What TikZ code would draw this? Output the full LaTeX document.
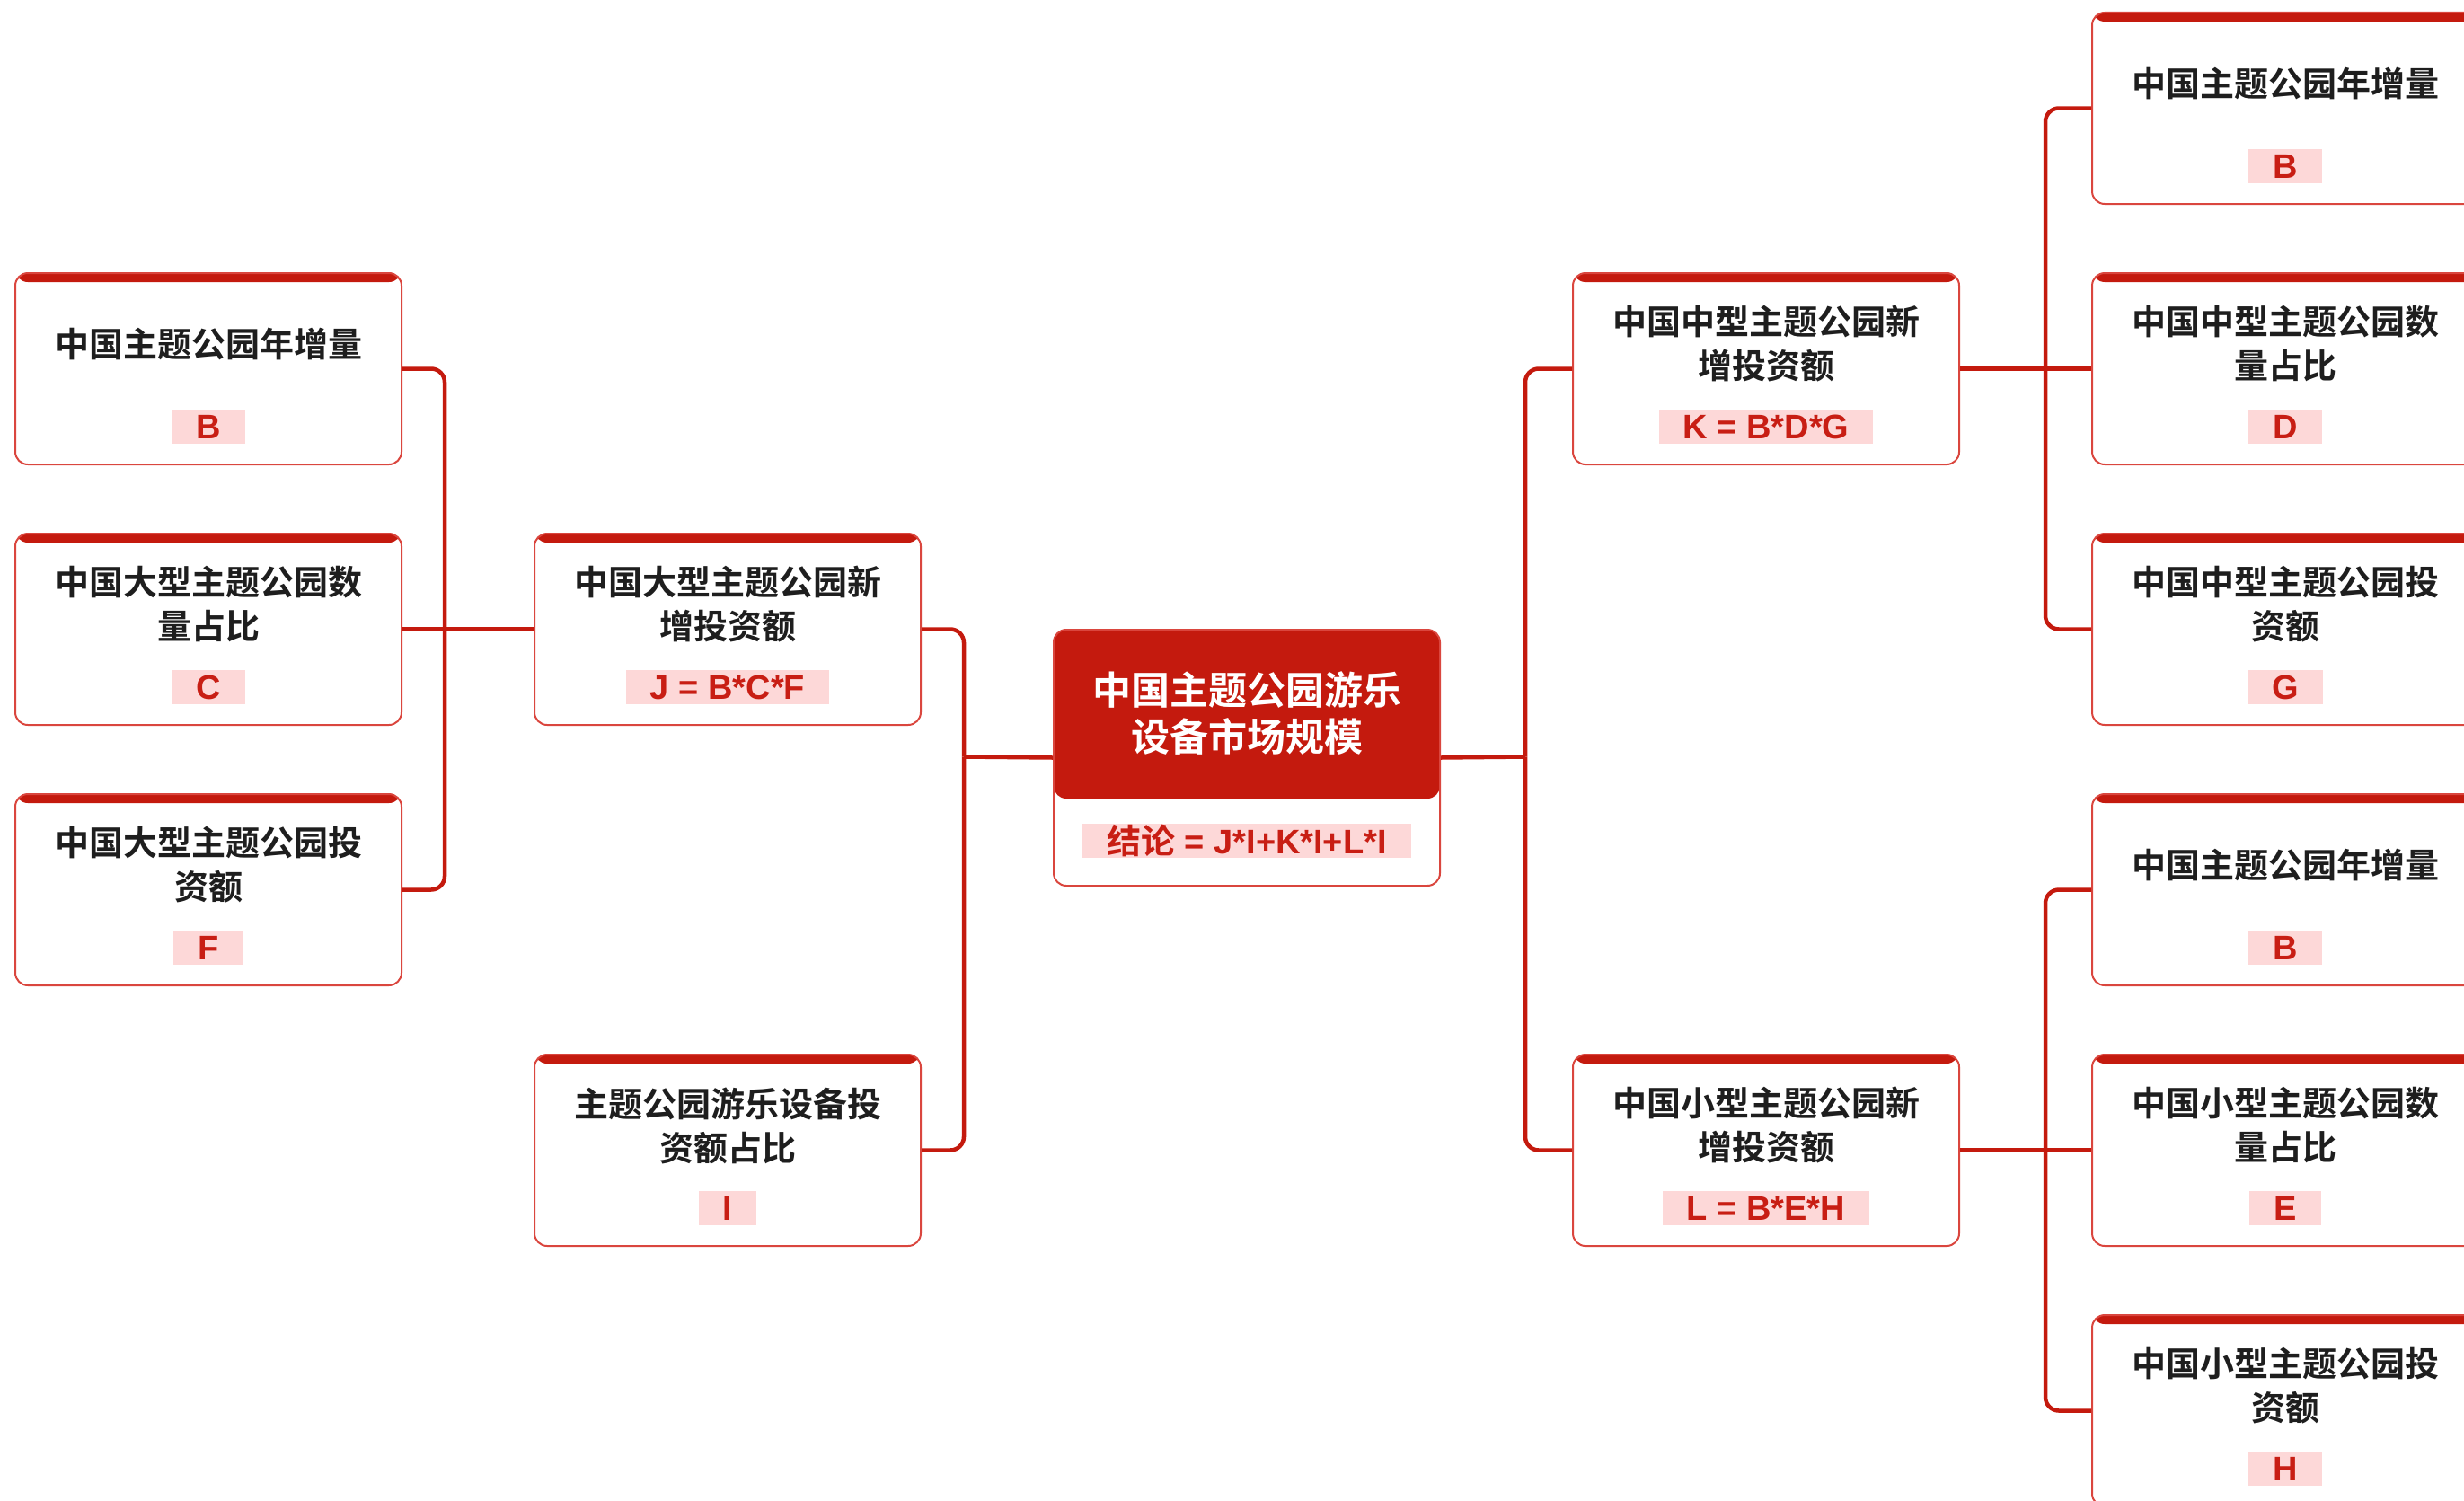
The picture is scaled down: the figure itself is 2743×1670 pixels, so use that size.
\documentclass[tikz,border=0pt]{standalone}
\usepackage{fontspec}
\newfontfamily\cjk{Noto Sans CJK SC}[BoldFont={Noto Sans CJK SC Bold}]
\newfontfamily\latf{Liberation Sans}
\definecolor{darkred}{RGB}{196,26,14}
\definecolor{edgered}{RGB}{218,70,62}
\definecolor{labfill}{RGB}{253,216,216}
\definecolor{labred}{RGB}{200,30,20}
\definecolor{textdark}{RGB}{30,30,30}
\newcommand\leafnode[5]{%
  \node[leaf] (#1) at (#2,#3) {};
  \node[ttext] (#1t) at ([yshift=-80pt]#1.north) {#4};
  \node[lab] (#1l) at ([yshift=-172pt]#1.north) {#5};
}
\begin{document}
\begin{tikzpicture}[x=1pt,y=-1pt,
  conn/.style={draw=darkred, line width=4.5pt, rounded corners=15pt},
  leaf/.style={draw=edgered, line width=2pt, rounded corners=14pt,
    minimum width=430pt, minimum height=213pt, anchor=north west, inner sep=0pt,
    path picture={\fill[darkred] (path picture bounding box.north west) rectangle ([yshift=-10pt]path picture bounding box.north east);}},
  rootbox/.style={draw=edgered, line width=2pt, rounded corners=14pt,
    minimum width=430pt, minimum height=285pt, anchor=north west, inner sep=0pt,
    path picture={\fill[darkred] (path picture bounding box.north west) rectangle ([yshift=-188pt]path picture bounding box.north east);}},
  ttext/.style={font=\cjk\bfseries\fontsize{38}{49}\selectfont, text=textdark, align=center, inner sep=0pt},
  titletext/.style={font=\cjk\bfseries\fontsize{43}{52}\selectfont, text=white, align=center, inner sep=0pt},
  lab/.style={fill=labfill, text=labred, font=\latf\bfseries\fontsize{38}{38}\selectfont,
    inner xsep=27pt, inner ysep=0pt, minimum height=38pt}
]
\useasboundingbox (0,0) rectangle (2743,1670);
\clip (0,0) rectangle (2743,1670);

% left column A
\leafnode{a1}{16}{303}{中国主题公园年增量}{B}
\leafnode{a2}{16}{593}{中国大型主题公园数\\量占比}{C}
\leafnode{a3}{16}{883}{中国大型主题公园投\\资额}{F}
% column B
\leafnode{j}{594}{593}{中国大型主题公园新\\增投资额}{J = B*C*F}
\leafnode{i}{594}{1173}{主题公园游乐设备投\\资额占比}{I}
% root
\node[rootbox] (root) at (1172,700) {};
\node[titletext] (roott) at ([yshift=-94pt]root.north) {中国主题公园游乐\\设备市场规模};
\node[lab] (rootl) at ([yshift=-236pt]root.north) {{\cjk\bfseries 结论} = J*I+K*I+L*I};
% column C
\leafnode{k}{1750}{303}{中国中型主题公园新\\增投资额}{K = B*D*G}
\leafnode{l}{1750}{1173}{中国小型主题公园新\\增投资额}{L = B*E*H}
% column D
\leafnode{d0}{2328}{13}{中国主题公园年增量}{B}
\leafnode{d1}{2328}{303}{中国中型主题公园数\\量占比}{D}
\leafnode{d2}{2328}{593}{中国中型主题公园投\\资额}{G}
\leafnode{d3}{2328}{883}{中国主题公园年增量}{B}
\leafnode{d4}{2328}{1173}{中国小型主题公园数\\量占比}{E}
\leafnode{d5}{2328}{1463}{中国小型主题公园投\\资额}{H}

% bus points
\coordinate (busA) at (495,699.5);
\coordinate (busB) at (1073,842.5);
\coordinate (busC) at (1698,842.5);
\coordinate (busD1) at (2277,409.5);
\coordinate (busD2) at (2277,1279.5);

% connectors
\draw[conn] (a1.east) -| (busA);
\draw[conn] (a3.east) -| (busA);
\draw[conn] (a2.east) -- (j.west);
\draw[conn] (j.east) -| (busB);
\draw[conn] (i.east) -| (busB);
\draw[conn] (busB) -- (root.west);
\draw[conn] (root.east) -- (busC);
\draw[conn] (busC) |- (k.west);
\draw[conn] (busC) |- (l.west);
\draw[conn] (k.east) -- (d1.west);
\draw[conn] (busD1) |- (d0.west);
\draw[conn] (busD1) |- (d2.west);
\draw[conn] (l.east) -- (d4.west);
\draw[conn] (busD2) |- (d3.west);
\draw[conn] (busD2) |- (d5.west);
\end{tikzpicture}
\end{document}
